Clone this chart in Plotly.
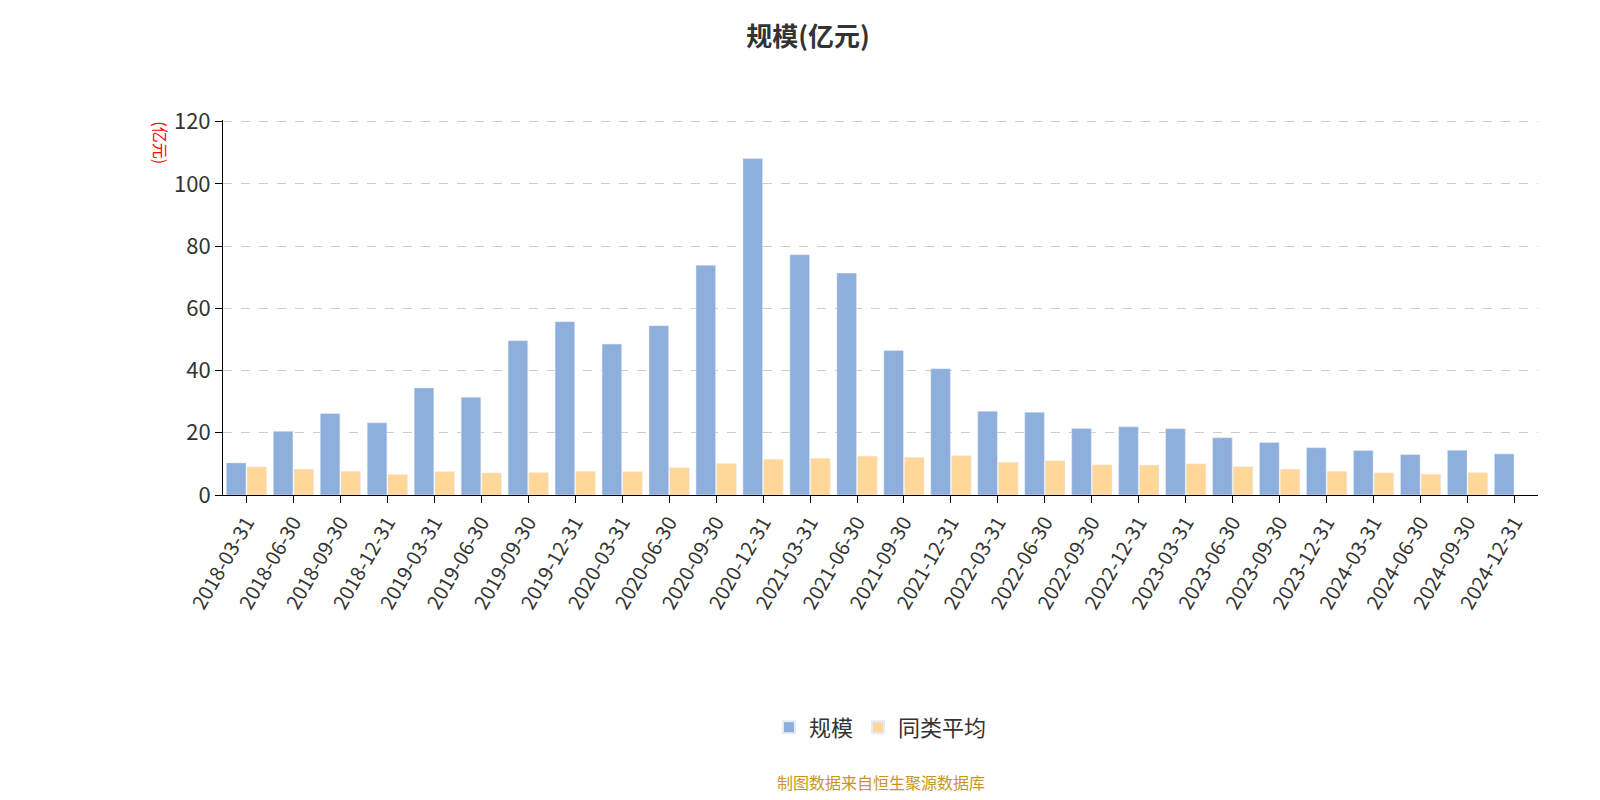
import plotly.graph_objects as go

dates = ["2018-03-31", "2018-06-30", "2018-09-30", "2018-12-31", "2019-03-31", "2019-06-30",
         "2019-09-30", "2019-12-31", "2020-03-31", "2020-06-30", "2020-09-30", "2020-12-31",
         "2021-03-31", "2021-06-30", "2021-09-30", "2021-12-31", "2022-03-31", "2022-06-30",
         "2022-09-30", "2022-12-31", "2023-03-31", "2023-06-30", "2023-09-30", "2023-12-31",
         "2024-03-31", "2024-06-30", "2024-09-30", "2024-12-31"]
scale = [10.3, 20.5, 26.2, 23.2, 34.4, 31.4, 49.6, 55.7, 48.5, 54.4, 73.8, 108.1,
         77.2, 71.3, 46.4, 40.6, 26.9, 26.6, 21.4, 21.9, 21.3, 18.4, 16.9, 15.2,
         14.3, 13.0, 14.4, 13.2]
peer_avg = [9.0, 8.3, 7.6, 6.6, 7.5, 7.1, 7.2, 7.6, 7.5, 8.8, 10.1, 11.5,
            11.8, 12.5, 12.1, 12.6, 10.5, 11.0, 9.7, 9.6, 10.0, 9.1, 8.3, 7.6,
            7.1, 6.7, 7.2, None]

font = "Noto Sans CJK SC"
fig = go.Figure()
fig.add_trace(go.Bar(x=dates, y=scale, name="规模", marker_color="#8eaedb"))
fig.add_trace(go.Bar(x=dates, y=peer_avg, name="同类平均", marker_color="#ffd899"))

fig.update_layout(
    width=1600, height=800, plot_bgcolor="white", paper_bgcolor="white",
    font=dict(family=font, color="#333"),
    title=dict(text="<b>规模(亿元)</b>", x=0.5, y=0.975, xanchor="center",
               font=dict(size=26, color="#333")),
    margin=dict(l=215, r=70, t=112, b=313),
    bargap=0.12, bargroupgap=0.05,
    legend=dict(orientation="h", x=0.5, xanchor="center", y=-0.62, yanchor="middle",
                font=dict(size=22), itemsizing="constant"),
    annotations=[
        dict(text="制图数据来自恒生聚源数据库", xref="paper", yref="paper", x=0.5, y=-0.765,
             yanchor="middle", showarrow=False, font=dict(size=16, color="#c8961e")),
        dict(text="(亿元)", xref="paper", yref="paper", x=-0.047, y=0.94, xanchor="center",
             yanchor="middle", showarrow=False, textangle=90, font=dict(size=16, color="red")),
    ],
)
fig.update_xaxes(type="category", tickangle=-60, tickfont=dict(size=20), showline=True,
                 linecolor="#000", ticks="outside", ticklen=7, tickcolor="#000")
fig.update_yaxes(range=[0, 120.5], tickvals=[0, 20, 40, 60, 80, 100, 120], tickfont=dict(size=22),
                 showline=True, linecolor="#000", ticks="outside", ticklen=7, tickcolor="#000",
                 showgrid=True, gridcolor="#ccc", griddash="dash", zeroline=False)
fig.write_html("out.html")
